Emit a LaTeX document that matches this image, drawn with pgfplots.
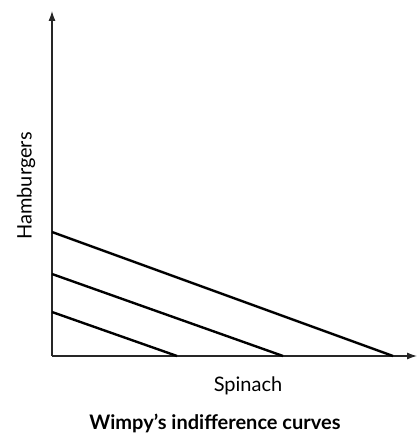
\documentclass[border=0pt]{standalone}
\usepackage{fontspec}
\setmainfont{Lato}
\usepackage{pgfplots}
\pgfplotsset{compat=1.18}
\usetikzlibrary{arrows.meta}
\begin{document}
\begin{tikzpicture}
\path[use as bounding box] (-52pt,-77pt) rectangle (365pt,356pt);
\begin{axis}[
  scale only axis, width=365pt, height=345pt,
  xmin=0, xmax=365, ymin=0, ymax=345,
  axis lines=left,
  axis line style={-{Latex[length=10pt,width=7pt]}, line width=1.1pt, black!85},
  xtick=\empty, ytick=\empty,
  clip=false,
]
\addplot[black, line width=2.4pt] coordinates {(0,124) (341,0)};
\addplot[black, line width=2.4pt] coordinates {(0,82) (231,0)};
\addplot[black, line width=2.4pt] coordinates {(0,44) (125,0)};
\end{axis}
\node[rotate=90, font=\fontsize{20}{24}\selectfont] at (-26pt,170pt) {Hamburgers};
\node[font=\fontsize{20}{24}\selectfont] at (196pt,-30pt) {Spinach};
\node[font=\fontsize{20}{24}\selectfont\bfseries] at (163pt,-67pt) {Wimpy’s indifference curves};
\end{tikzpicture}
\end{document}
